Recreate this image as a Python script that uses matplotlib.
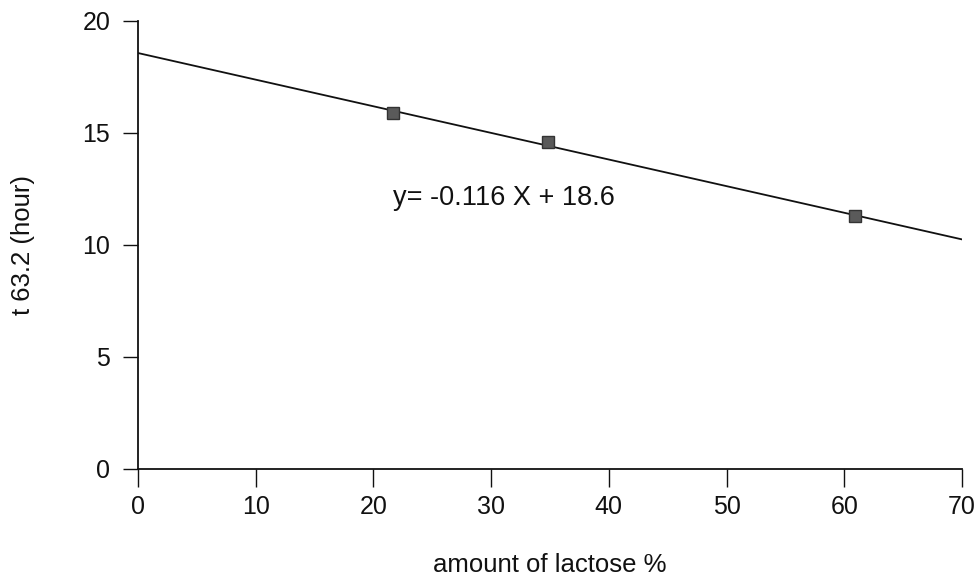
import matplotlib
matplotlib.use("Agg")
import matplotlib.pyplot as plt

# data
lactose_pct = [21.7, 34.8, 60.9]
t632_hours = [15.9, 14.6, 11.3]
fit_x = [0, 70]
fit_y = [18.57, 10.25]
x_ticks = [0, 10, 20, 30, 40, 50, 60, 70]
y_ticks = [0, 5, 10, 15, 20]
equation_text = "y= -0.116 X + 18.6"

plt.rcParams['font.family'] = ['Liberation Sans', 'DejaVu Sans']

fig = plt.figure(figsize=(9.79, 5.75), dpi=100)
ax = fig.add_axes([138 / 979, 1 - 469 / 575, 824 / 979, 448 / 575])

ax.plot(fit_x, fit_y, color='#111111', lw=1.3, zorder=2)
ax.plot(lactose_pct, t632_hours, ls='none', marker='s', ms=8.5,
        mfc='#5a5a5a', mec='#333333', mew=1, zorder=3)

ax.set_xlim(0, 70)
ax.set_ylim(0, 20)
ax.set_xticks(x_ticks)
ax.set_yticks(y_ticks)
ax.spines['top'].set_visible(False)
ax.spines['right'].set_visible(False)
for s in ('left', 'bottom'):
    ax.spines[s].set_linewidth(1.3)
    ax.spines[s].set_color('#111111')
ax.tick_params(axis='x', direction='out', length=13, width=1,
               labelsize=18, colors='#111111', pad=6)
ax.tick_params(axis='y', direction='out', length=11, width=1,
               labelsize=18, colors='#111111', pad=9)

ax.text(21.7, 12.1, equation_text, fontsize=19.5, color='#111111',
        ha='left', va='center')

ax.set_xlabel('amount of lactose %', fontsize=18.5, labelpad=24, color='#111111')
ax.set_ylabel('t 63.2 (hour)', fontsize=18.5, labelpad=34, color='#111111')

fig.savefig('out.png', dpi=100, facecolor='white')
